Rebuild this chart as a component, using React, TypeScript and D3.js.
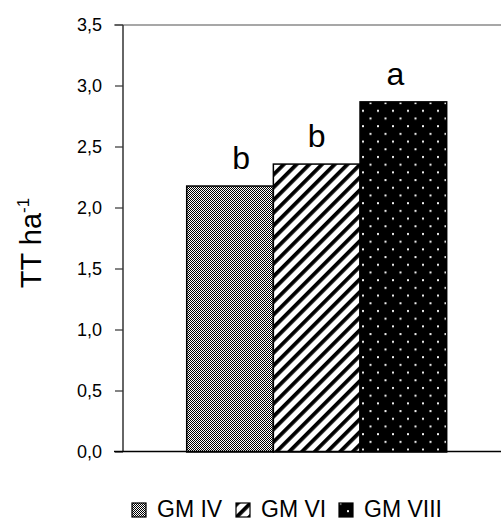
import React from "react";
import * as d3 from "d3";

const categories = ["GM IV", "GM VI", "GM VIII"];
const values = [2.18, 2.36, 2.87];
const letters = ["b", "b", "a"];
const yTicks = [0, 0.5, 1, 1.5, 2, 2.5, 3, 3.5];
const patternIds = ["pChecker", "pStripe", "pDots"];

const W = 501;
const H = 524;
const FONT = "'Liberation Sans', Arial, Helvetica, sans-serif";

export default function App() {
  const y = d3.scaleLinear().domain([0, 3.5]).range([452, 25]);
  const x = d3.scaleBand<string>().domain(categories).range([186.7, 446.7]).padding(0);
  const fmt = (v: number) => d3.format(".1f")(v).replace(".", ",");
  const labelDx = [11, 0, -8];
  const legendX = [132, 236, 339];

  return (
    <svg width={W} height={H} style={{ position: "absolute", left: 0, top: 0, background: "#fff" }} fontFamily={FONT}>
      <defs>
        <pattern id="pChecker" patternUnits="userSpaceOnUse" width={2} height={2}>
          <rect width={2} height={2} fill="#fff" />
          <rect x={0} y={0} width={1} height={1} fill="#000" />
          <rect x={1} y={1} width={1} height={1} fill="#000" />
        </pattern>
        <pattern id="pStripe" patternUnits="userSpaceOnUse" width={9} height={9} patternTransform="rotate(45)">
          <rect width={9} height={9} fill="#fff" />
          <rect x={0} y={0} width={3.8} height={9} fill="#000" />
        </pattern>
        <pattern id="pDots" patternUnits="userSpaceOnUse" width={15} height={15.4}>
          <rect width={15} height={15.4} fill="#000" />
          <rect x={2} y={2} width={2} height={2} fill="#f2f2f2" />
          <rect x={9.5} y={9.7} width={2} height={2} fill="#f2f2f2" />
        </pattern>
      </defs>

      {/* top border */}
      <line x1={114} x2={501} y1={25} y2={25} stroke="#8a8a8a" strokeWidth={1.5} />

      {/* bars */}
      {categories.map((c, i) => (
        <rect
          key={c}
          x={x(c)!}
          y={y(values[i])}
          width={x.bandwidth()}
          height={y(0) - y(values[i])}
          fill={`url(#${patternIds[i]})`}
          stroke="#000"
          strokeWidth={1.5}
        />
      ))}

      {/* letters */}
      {categories.map((c, i) => (
        <text
          key={c + "l"}
          x={x(c)! + x.bandwidth() / 2 + labelDx[i]}
          y={y(values[i]) - 17}
          textAnchor="middle"
          fontSize={32}
          fill="#000"
        >
          {letters[i]}
        </text>
      ))}

      {/* y axis */}
      <line x1={123} x2={123} y1={25} y2={452} stroke="#333" strokeWidth={1.5} />
      {yTicks.map((t) => (
        <g key={t}>
          <line x1={115} x2={123} y1={y(t)} y2={y(t)} stroke="#333" strokeWidth={1.2} />
          <text x={102} y={y(t)} dy="0.36em" textAnchor="end" fontSize={18} fill="#000">
            {fmt(t)}
          </text>
        </g>
      ))}

      {/* bottom axis */}
      <line x1={114} x2={501} y1={451.5} y2={451.5} stroke="#000" strokeWidth={1.5} />

      {/* y title */}
      <text transform="translate(41,243) rotate(-90)" textAnchor="middle" fontSize={29} fill="#000">
        TT ha
        <tspan fontSize={17} dy={-12}>-1</tspan>
      </text>

      {/* legend */}
      {categories.map((c, i) => (
        <g key={c + "g"}>
          <rect x={legendX[i]} y={503} width={14} height={14} fill={`url(#${patternIds[i]})`} stroke="#000" strokeWidth={1.2} />
          <text x={legendX[i] + 25} y={517} fontSize={23} fill="#000">
            {c}
          </text>
        </g>
      ))}
    </svg>
  );
}
